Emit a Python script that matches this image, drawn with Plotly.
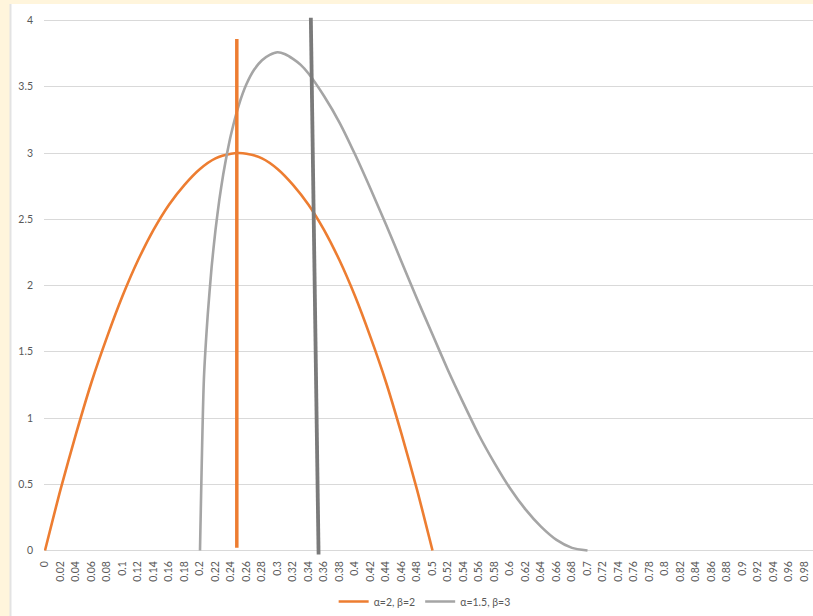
import plotly.graph_objects as go

# Scaled beta densities on the unit interval
orange_x = [0, 0.02, 0.04, 0.06, 0.08, 0.10, 0.12, 0.14, 0.16, 0.18, 0.20, 0.22, 0.24, 0.25,
            0.26, 0.28, 0.30, 0.32, 0.34, 0.36, 0.38, 0.40, 0.42, 0.44, 0.46, 0.48, 0.50]
orange_y = [0, 0.46, 0.88, 1.27, 1.61, 1.92, 2.19, 2.42, 2.61, 2.76, 2.88, 2.96, 2.995, 3.0,
            2.995, 2.96, 2.88, 2.76, 2.61, 2.42, 2.19, 1.92, 1.61, 1.27, 0.88, 0.46, 0]

gray_x = [0.20, 0.205, 0.21, 0.215, 0.22, 0.225, 0.23, 0.235, 0.24, 0.25, 0.26, 0.27, 0.28,
          0.29, 0.30, 0.31, 0.32, 0.33, 0.34, 0.36, 0.38, 0.40, 0.42, 0.44, 0.46, 0.48,
          0.50, 0.52, 0.54, 0.56, 0.58, 0.60, 0.62, 0.64, 0.66, 0.68, 0.70]
gray_y = [0, 1.29, 1.78, 2.14, 2.42, 2.65, 2.84, 3.00, 3.14, 3.36, 3.52, 3.63, 3.70,
          3.74, 3.76, 3.745, 3.71, 3.665, 3.60, 3.43, 3.23, 2.99, 2.73, 2.46, 2.18, 1.90,
          1.63, 1.36, 1.11, 0.87, 0.66, 0.47, 0.31, 0.18, 0.08, 0.02, 0]

# Marker lines drawn over the curves
orange_marker_x = [0.2475, 0.2475]
orange_marker_y = [0.02, 3.86]
dark_marker_x = [0.353, 0.343]
dark_marker_y = [-0.03, 4.02]

tick_labels = ["0", "0.02", "0.04", "0.06", "0.08", "0.1", "0.12", "0.14", "0.16", "0.18",
               "0.2", "0.22", "0.24", "0.26", "0.28", "0.3", "0.32", "0.34", "0.36", "0.38",
               "0.4", "0.42", "0.44", "0.46", "0.48", "0.5", "0.52", "0.54", "0.56", "0.58",
               "0.6", "0.62", "0.64", "0.66", "0.68", "0.7", "0.72", "0.74", "0.76", "0.78",
               "0.8", "0.82", "0.84", "0.86", "0.88", "0.9", "0.92", "0.94", "0.96", "0.98"]
y_ticks = [0, 0.5, 1, 1.5, 2, 2.5, 3, 3.5, 4]
y_tick_labels = ["0", "0.5", "1", "1.5", "2", "2.5", "3", "3.5", "4"]

ORANGE = "#ED7D31"
GRAY = "#A5A5A5"
DARK = "#7A7A7A"
TEXT = "#595959"
FONT = "Lato, 'Open Sans', sans-serif"

fig = go.Figure()
fig.add_trace(go.Scatter(x=orange_x, y=orange_y, mode="lines", name="α=2, β=2",
                         line=dict(color=ORANGE, width=2.6, shape="spline", smoothing=0.6)))
fig.add_trace(go.Scatter(x=gray_x, y=gray_y, mode="lines", name="α=1.5, β=3",
                         line=dict(color=GRAY, width=2.6, shape="spline", smoothing=0.6)))
fig.add_trace(go.Scatter(x=orange_marker_x, y=orange_marker_y, mode="lines", showlegend=False,
                         line=dict(color=ORANGE, width=3.5)))
fig.add_trace(go.Scatter(x=dark_marker_x, y=dark_marker_y, mode="lines", showlegend=False,
                         line=dict(color=DARK, width=3.8)))

W, H = 813, 616
ml, mr, mt, mb = 44, 0, 16, 60
pw, ph = W - ml - mr, H - mt - mb

def px_to_paper_x(px):
    return (px - ml) / pw

def px_to_paper_y(py):
    return (H - mb - py) / ph

# white chart area with a thin border on the left
fig.add_shape(type="rect", xref="paper", yref="paper", layer="below",
              x0=px_to_paper_x(10), x1=px_to_paper_x(W + 5),
              y0=px_to_paper_y(H + 5), y1=px_to_paper_y(4),
              fillcolor="white", line=dict(width=0))
fig.add_shape(type="line", xref="paper", yref="paper", layer="below",
              x0=px_to_paper_x(10.5), x1=px_to_paper_x(10.5),
              y0=px_to_paper_y(H + 5), y1=px_to_paper_y(4),
              line=dict(color="#E3E3E3", width=2))

fig.update_layout(
    width=W, height=H,
    margin=dict(l=ml, r=mr, t=mt, b=mb),
    paper_bgcolor="#FFF5DC",
    plot_bgcolor="rgba(0,0,0,0)",
    font=dict(family=FONT, size=10.5, color=TEXT),
    showlegend=True,
    legend=dict(orientation="h", x=0.495, xanchor="center", y=px_to_paper_y(603), yanchor="middle",
                font=dict(size=10.5, color=TEXT), bgcolor="rgba(0,0,0,0)",
                itemwidth=30, tracegroupgap=0),
    xaxis=dict(range=[-1 / 775, 768 / 775], tickmode="array",
               tickvals=[float(t) for t in tick_labels], ticktext=tick_labels,
               tickangle=-90, showgrid=False, zeroline=False, showline=False,
               ticks="", ticklabelstandoff=3, tickfont=dict(size=10.5, color=TEXT)),
    yaxis=dict(range=[-0.0339, 4.0339], tickmode="array", tickvals=y_ticks,
               ticktext=y_tick_labels, showgrid=True, gridcolor="#D9D9D9", gridwidth=1,
               zeroline=False, showline=False, ticks="", ticklabelstandoff=10,
               tickfont=dict(size=10.5, color=TEXT)),
)

fig.write_html("out.html")
